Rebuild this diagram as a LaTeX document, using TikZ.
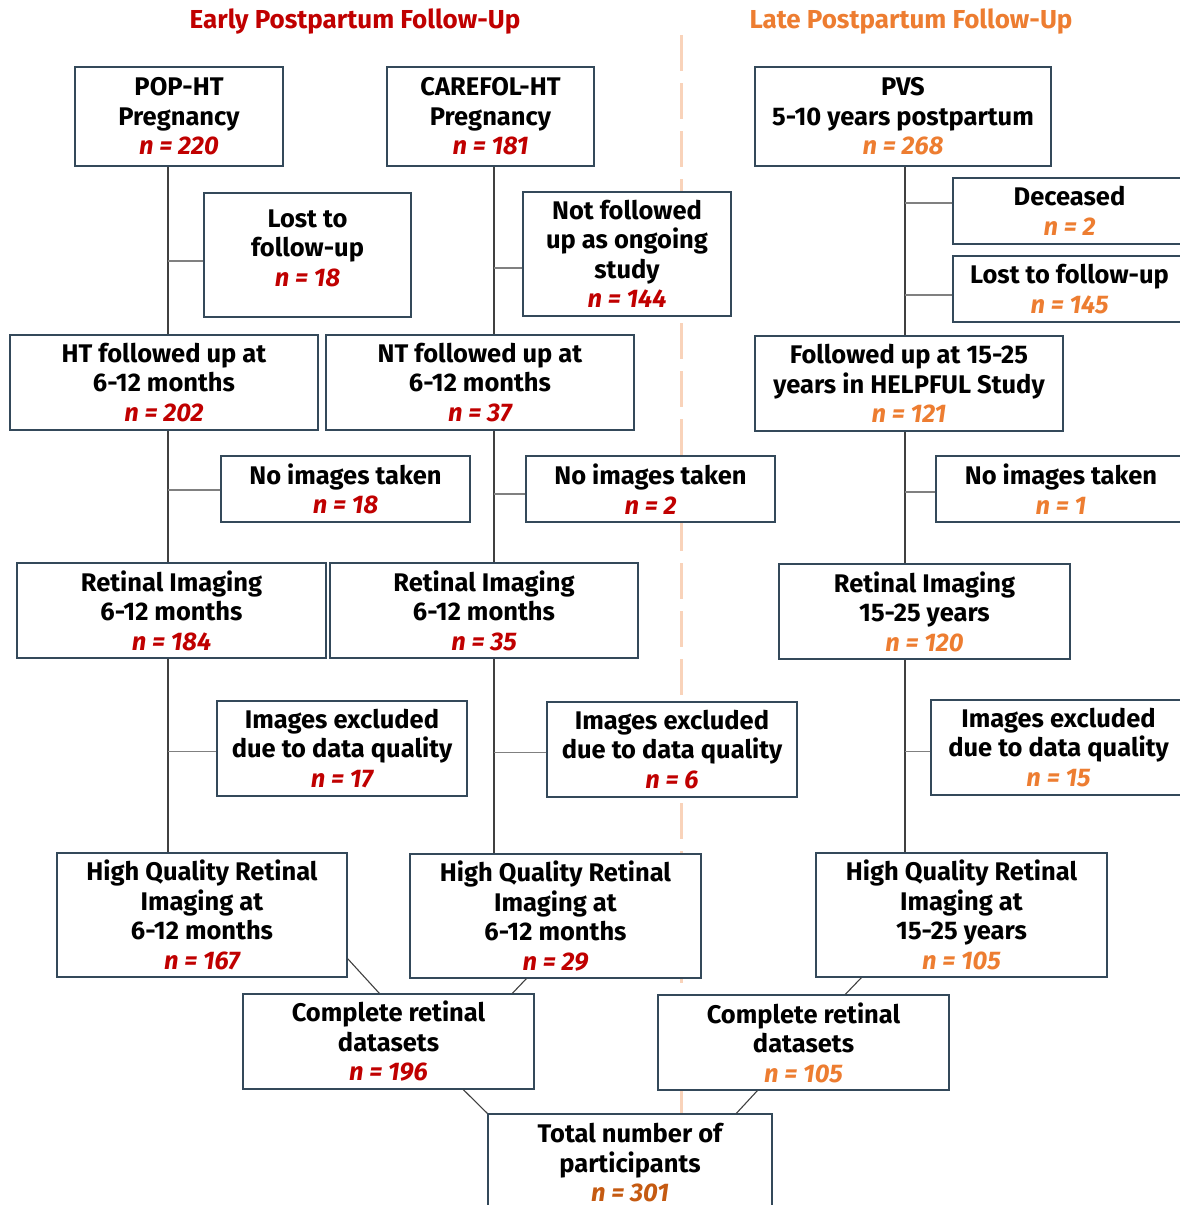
\documentclass[tikz,border=0pt]{standalone}
\usepackage{fontspec}
\setmainfont{Fira Sans}
\usetikzlibrary{calc}
\definecolor{ered}{HTML}{C00000}
\definecolor{lorg}{HTML}{ED7D31}
\definecolor{dorg}{HTML}{C55A11}
\definecolor{bord}{HTML}{34495A}
\definecolor{sepcol}{HTML}{F9D3BA}
\definecolor{trunkcol}{HTML}{404040}
\definecolor{stubcol}{HTML}{808080}
\newcommand\nR[1]{\textcolor{ered}{\itshape n = #1}}
\newcommand\nO[1]{\textcolor{lorg}{\itshape n = #1}}
\newcommand\nD[1]{\textcolor{dorg}{\itshape n = #1}}
\tikzset{
  box/.style={draw=bord, line width=1.3pt, fill=white, align=center, inner sep=0pt,
    font=\fontsize{25.5}{29.5}\selectfont\bfseries},
  trunk/.style={draw=trunkcol, line width=1.2pt},
  stub/.style={draw=stubcol, line width=1.8pt},
  diag/.style={draw=trunkcol, line width=1.1pt},
  sep/.style={draw=sepcol, line width=3pt, dash pattern=on 36pt off 12pt},
  title/.style={font=\fontsize{26}{30}\selectfont\bfseries}
}
\begin{document}
\begin{tikzpicture}[x=1pt,y=-1pt]
\useasboundingbox (0,0) rectangle (1179,1205);
% titles
\node[title, text=ered] (tE) at (355,22) {Early Postpartum Follow-Up};
\node[title, text=lorg] (tL) at (911,22) {Late Postpartum Follow-Up};
% separator
\coordinate (s1) at (681,35);
\coordinate (s2) at (681,1205);
\draw[sep] (s1) -- (s2);
% trunk positions
\coordinate (xa) at (168,0);
\coordinate (xb) at (494,0);
\coordinate (xc) at (905,0);
% row 1
\node[box, minimum width=208pt, minimum height=99pt] (pop) at (179,116.5) {POP-HT\\Pregnancy\\\nR{220}};
\node[box, minimum width=207pt, minimum height=99pt] (care) at (490.5,116.5) {CAREFOL-HT\\Pregnancy\\\nR{181}};
\node[box, minimum width=296pt, minimum height=99pt] (pvs) at (903,116.5) {PVS\\5-10 years postpartum\\\nO{268}};
% row 2 (exclusions)
\node[box, minimum width=207pt, minimum height=124pt, text depth=14pt] (lostL) at (307.5,255) {Lost to\\follow-up\\\nR{18}};
\node[box, minimum width=208pt, minimum height=124pt] (notf) at (627,254) {Not followed\\up as ongoing\\study\\\nR{144}};
\node[box, minimum width=233pt, minimum height=66pt] (dec) at (1069.5,211) {Deceased\\\nO{2}};
\node[box, minimum width=233pt, minimum height=66pt] (lostR) at (1069.5,289) {Lost to follow-up\\\nO{145}};
% row 3
\node[box, minimum width=308pt, minimum height=95pt] (htf) at (164,382.5) {HT followed up at\\6-12 months\\\nR{202}};
\node[box, minimum width=308pt, minimum height=95pt] (ntf) at (480,382.5) {NT followed up at\\6-12 months\\\nR{37}};
\node[box, minimum width=308pt, minimum height=95pt] (fu) at (909,383.5) {Followed up at 15-25\\years in HELPFUL Study\\\nO{121}};
% row 4
\node[box, minimum width=249pt, minimum height=66pt] (noL) at (345.5,489) {No images taken\\\nR{18}};
\node[box, minimum width=249pt, minimum height=66pt] (noM) at (650.5,489) {No images taken\\\nR{2}};
\node[box, minimum width=250pt, minimum height=66pt] (noR) at (1061,489) {No images taken\\\nO{1}};
% row 5
\node[box, minimum width=309pt, minimum height=95pt] (riL) at (171.5,610.5) {Retinal Imaging\\6-12 months\\\nR{184}};
\node[box, minimum width=308pt, minimum height=95pt] (riM) at (484,610.5) {Retinal Imaging\\6-12 months\\\nR{35}};
\node[box, minimum width=291pt, minimum height=95pt] (riR) at (924.5,611.5) {Retinal Imaging\\15-25 years\\\nO{120}};
% row 6
\node[box, minimum width=250pt, minimum height=95pt] (exL) at (342,748.5) {Images excluded\\due to data quality\\\nR{17}};
\node[box, minimum width=250pt, minimum height=95pt] (exM) at (672,749.5) {Images excluded\\due to data quality\\\nR{6}};
\node[box, minimum width=255pt, minimum height=95pt] (exR) at (1058.5,747.5) {Images excluded\\due to data quality\\\nO{15}};
% row 7
\node[box, minimum width=290pt, minimum height=124pt] (hqL) at (202,915) {High Quality Retinal\\Imaging at\\6-12 months\\\nR{167}};
\node[box, minimum width=291pt, minimum height=124pt] (hqM) at (555.5,916) {High Quality Retinal\\Imaging at\\6-12 months\\\nR{29}};
\node[box, minimum width=291pt, minimum height=124pt] (hqR) at (961.5,915) {High Quality Retinal\\Imaging at\\15-25 years\\\nO{105}};
% row 8
\node[box, minimum width=291pt, minimum height=95pt] (cL) at (388.5,1041.5) {Complete retinal\\datasets\\\nR{196}};
\node[box, minimum width=291pt, minimum height=95pt] (cR) at (803.5,1042.5) {Complete retinal\\datasets\\\nO{105}};
% row 9
\node[box, minimum width=284pt, minimum height=98pt] (tot) at (630,1163) {Total number of\\participants\\\nD{301}};
% left trunk
\draw[trunk] (pop.south -| xa) -- (htf.north -| xa);
\draw[trunk] (htf.south -| xa) -- (riL.north -| xa);
\draw[trunk] (riL.south -| xa) -- (hqL.north -| xa);
% middle trunk
\draw[trunk] (care.south -| xb) -- (ntf.north -| xb);
\draw[trunk] (ntf.south -| xb) -- (riM.north -| xb);
\draw[trunk] (riM.south -| xb) -- (hqM.north -| xb);
% right trunk
\draw[trunk] (pvs.south -| xc) -- (fu.north -| xc);
\draw[trunk] (fu.south -| xc) -- (riR.north -| xc);
\draw[trunk] (riR.south -| xc) -- (hqR.north -| xc);
% stubs
\coordinate (a1) at ($(lostL.west)+(0,6)$);
\coordinate (a2) at ($(noL.west)+(0,1)$);
\coordinate (a3) at ($(exL.west)+(0,3)$);
\coordinate (b1) at ($(notf.west)+(0,14)$);
\coordinate (b2) at ($(noM.west)+(0,5)$);
\coordinate (b3) at ($(exM.west)+(0,3)$);
\coordinate (c1) at ($(dec.west)+(0,-8)$);
\coordinate (c2) at ($(lostR.west)+(0,6)$);
\coordinate (c3) at ($(noR.west)+(0,3)$);
\coordinate (c4) at ($(exR.west)+(0,4)$);
\foreach \p in {a1,a2,a3} \draw[stub] (\p) -- (\p -| xa);
\foreach \p in {b1,b2,b3} \draw[stub] (\p) -- (\p -| xb);
\foreach \p in {c1,c2,c3,c4} \draw[stub] (\p) -- (\p -| xc);
% merges
\draw[diag] ($(hqL.south east)+(0,-19)$) -- ($(cL.north west)+(137,0)$);
\draw[diag] ($(hqM.south west)+(117,0)$) -- ($(cL.north west)+(270,0)$);
\draw[diag] ($(cL.south west)+(221,0)$) -- (tot.north west);
\draw[diag] ($(hqR.south west)+(46,0)$) -- ($(cR.north west)+(188,0)$);
\draw[diag] ($(cR.south west)+(100,0)$) -- ($(tot.north west)+(249,0)$);
\end{tikzpicture}
\end{document}
